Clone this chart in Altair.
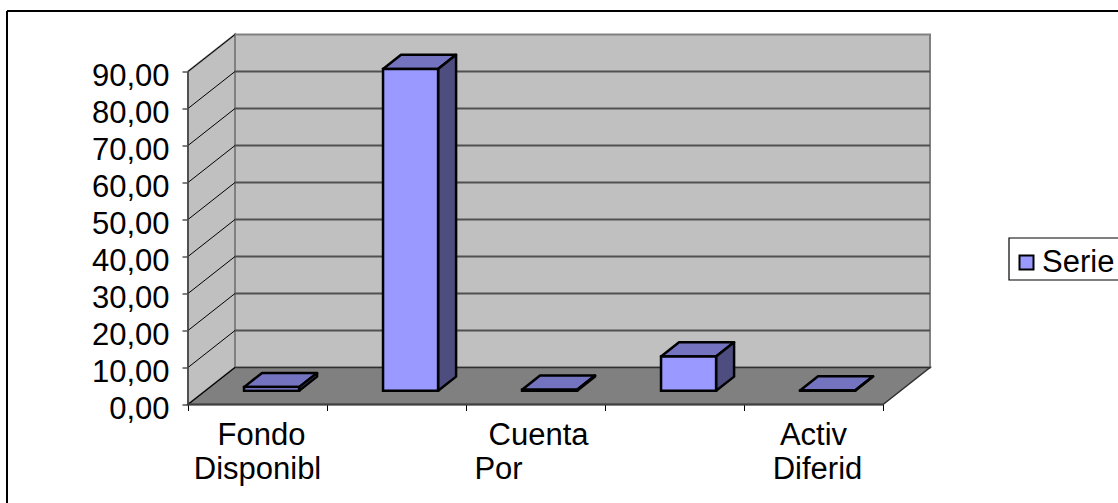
import altair as alt
import pandas as pd

# Series values, one per asset group
CATEGORIES = ["Fondo Disponibl", "Inversiones", "Cuenta Por", "Activo Fijo", "Activ Diferid"]
VALUES = [1.0, 87.0, 0.3, 9.3, 0.1]
SERIES_NAME = "Serie"
Y_TICKS = [0, 10, 20, 30, 40, 50, 60, 70, 80, 90]
X_TICKS = [0, 1, 2, 3, 4, 5]

# Category labels as they wrap under the axis: (category index, line, text, nudge in px)
LABEL_LINES = [
    (0, 0, "Fondo", 4), (0, 1, "Disponibl", 0),
    (2, 0, "Cuenta", 3), (2, 1, "Por", -37),
    (4, 0, "Activ", 0), (4, 1, "Diferid", 4),
]

# Oblique projection of the 3D box, in scale units
PX_PER_CAT = 139.0
PX_PER_UNIT = 3.7
DEPTH_X = 47.0 / PX_PER_CAT
DEPTH_Y = 10.0
X_MAX = 5 + DEPTH_X
Y_MAX = 100.0
BAR_START, BAR_END = 0.278, 0.674
DEPTH_FRONT, DEPTH_BACK = 0.37, 0.753

FONT = "Liberation Sans"
x_scale = alt.Scale(domain=[0, X_MAX], nice=False, zero=False)
y_scale = alt.Scale(domain=[0, Y_MAX], nice=False, zero=False)

x_axis_def = alt.Axis(
    values=X_TICKS,
    domain=False,
    grid=False,
    labels=False,
    tickSize=6,
    tickColor="#000000",
)
y_axis_def = alt.Axis(
    values=Y_TICKS,
    domain=False,
    grid=False,
    tickSize=6,
    tickColor="#000000",
    labelPadding=13,
    labelOffset=4.5,
    labelFont=FONT,
    labelFontSize=31,
    labelColor="#000000",
    labelExpr="replace(format(datum.value, '.2f'), '.', ',')",
)


def X(field="x"):
    return alt.X(f"{field}:Q", scale=x_scale, title=None, axis=x_axis_def)


def Y(field="y"):
    return alt.Y(f"{field}:Q", scale=y_scale, title=None, axis=y_axis_def)


# Walls and floor of the box
back_wall = alt.Chart(pd.DataFrame([{"x": DEPTH_X, "x2": X_MAX, "y": DEPTH_Y, "y2": 90 + DEPTH_Y}])).mark_rect(
    fill="#C0C0C0", stroke="#808080", strokeWidth=2
).encode(x=X(), x2="x2:Q", y=Y(), y2="y2:Q")

side_wall = alt.Chart(pd.DataFrame([
    {"x": 0, "y": 0, "y2": 90},
    {"x": DEPTH_X, "y": DEPTH_Y, "y2": 90 + DEPTH_Y},
])).mark_area(orient="vertical", fill="#C0C0C0", stroke="#808080", strokeWidth=2).encode(
    x=X(), y=Y(), y2="y2:Q"
)

floor = alt.Chart(pd.DataFrame([
    {"y": 0, "x": 0, "x2": 5},
    {"y": DEPTH_Y, "x": DEPTH_X, "x2": X_MAX},
])).mark_area(orient="horizontal", fill="#808080", stroke="#303030", strokeWidth=1.5).encode(
    y=Y(), x=X(), x2="x2:Q"
)

# Gridlines: flat on the back wall, slanted across the side wall
back_grid = alt.Chart(pd.DataFrame([
    {"x": DEPTH_X, "x2": X_MAX, "y": v + DEPTH_Y} for v in Y_TICKS if 0 < v < 90
])).mark_rule(color="#505050", strokeWidth=2).encode(x=X(), x2="x2:Q", y=Y())

side_grid = alt.Chart(pd.DataFrame(
    [{"tick": v, "x": 0, "y": v} for v in Y_TICKS] + [{"tick": v, "x": DEPTH_X, "y": v + DEPTH_Y} for v in Y_TICKS]
)).mark_line(color="#000000", strokeWidth=1).encode(x=X(), y=Y(), detail="tick:N")

# Bar faces derived from each value
tops, sides, fronts = [], [], []
for i, (cat, val) in enumerate(zip(CATEGORIES, VALUES)):
    left = i + BAR_START
    right = i + BAR_END
    fx, fy = DEPTH_FRONT * DEPTH_X, DEPTH_FRONT * DEPTH_Y
    bx, by = DEPTH_BACK * DEPTH_X, DEPTH_BACK * DEPTH_Y
    fronts.append({"serie": SERIES_NAME, "x": left + fx, "x2": right + fx, "y": fy, "y2": fy + val})
    tops.append({"bar": i, "y": fy + val, "x": left + fx, "x2": right + fx})
    tops.append({"bar": i, "y": by + val, "x": left + bx, "x2": right + bx})
    sides.append({"bar": i, "x": right + fx, "y": fy, "y2": fy + val})
    sides.append({"bar": i, "x": right + bx, "y": by, "y2": by + val})

top_faces = alt.Chart(pd.DataFrame(tops)).mark_area(
    orient="horizontal", fill="#7373BF", stroke="#000000", strokeWidth=2.5, strokeJoin="round"
).encode(y=Y(), x=X(), x2="x2:Q", detail="bar:N")

side_faces = alt.Chart(pd.DataFrame(sides)).mark_area(
    orient="vertical", fill="#4D4D80", stroke="#000000", strokeWidth=2.5, strokeJoin="round"
).encode(x=X(), y=Y(), y2="y2:Q", detail="bar:N")

front_faces = alt.Chart(pd.DataFrame(fronts)).mark_rect(stroke="#000000", strokeWidth=2.5).encode(
    x=X(),
    x2="x2:Q",
    y=Y(),
    y2="y2:Q",
    color=alt.Color(
        "serie:N",
        scale=alt.Scale(domain=[SERIES_NAME], range=["#9999FF"]),
        legend=alt.Legend(
            title=None,
            orient="none",
            legendX=819,
            legendY=208.5,
            padding=4,
            symbolType="square",
            symbolSize=196,
            symbolStrokeColor="#000000",
            symbolStrokeWidth=2,
            symbolOpacity=1,
            labelFont=FONT,
            labelFontSize=31,
            labelColor="#000000",
            labelOffset=0,
            labelLimit=300,
        ),
    ),
)

# Front axis lines
y_axis = alt.Chart(pd.DataFrame({"x": [0], "y": [0], "y2": [90]})).mark_rule(
    color="#404040", strokeWidth=1.5
).encode(x=X(), y=Y(), y2="y2:Q")

x_axis = alt.Chart(pd.DataFrame({"x": [0], "x2": [5], "y": [0]})).mark_rule(
    color="#404040", strokeWidth=2
).encode(x=X(), x2="x2:Q", y=Y())

# Category labels, wrapped on two lines below the axis
labels = alt.Chart(pd.DataFrame([
    {"x": k + 0.5 + nudge / PX_PER_CAT, "y": -(40.5 + line * 33.5) / PX_PER_UNIT, "text": txt}
    for k, line, txt, nudge in LABEL_LINES
])).mark_text(font=FONT, fontSize=31, color="#000000", align="center", baseline="alphabetic").encode(
    x=X(), y=Y(), text="text:N"
)

# Chart area outline: only its top and left edges fall inside the canvas
frame_top = alt.Chart(pd.DataFrame({"a": [0]})).mark_rule(color="#000000", strokeWidth=2).encode(
    x=alt.value(-181), x2=alt.value(1000), y=alt.value(-23.5)
)
frame_left = alt.Chart(pd.DataFrame({"a": [0]})).mark_rule(color="#000000", strokeWidth=2).encode(
    x=alt.value(-181), y=alt.value(-23.5), y2=alt.value(500)
)

# Outline of the legend box, running off the canvas on the right
legend_box = alt.Chart(pd.DataFrame({"a": [0]})).mark_rect(
    fill="#FFFFFF", stroke="#000000", strokeWidth=1.2
).encode(x=alt.value(821), x2=alt.value(960), y=alt.value(203.5), y2=alt.value(245.5))

chart = alt.layer(
    frame_top, frame_left, legend_box,
    back_wall, side_wall, floor, back_grid, side_grid,
    top_faces, side_faces, front_faces,
    y_axis, x_axis, labels,
).properties(
    width=742,
    height=370,
    padding={"left": 188, "top": 34.5, "right": 188, "bottom": 98.5},
    autosize=alt.AutoSizeParams(type="none"),
    background="#FFFFFF",
).configure_view(stroke=None)

chart.save("out.html", embed_options={"renderer": "svg", "actions": False})
